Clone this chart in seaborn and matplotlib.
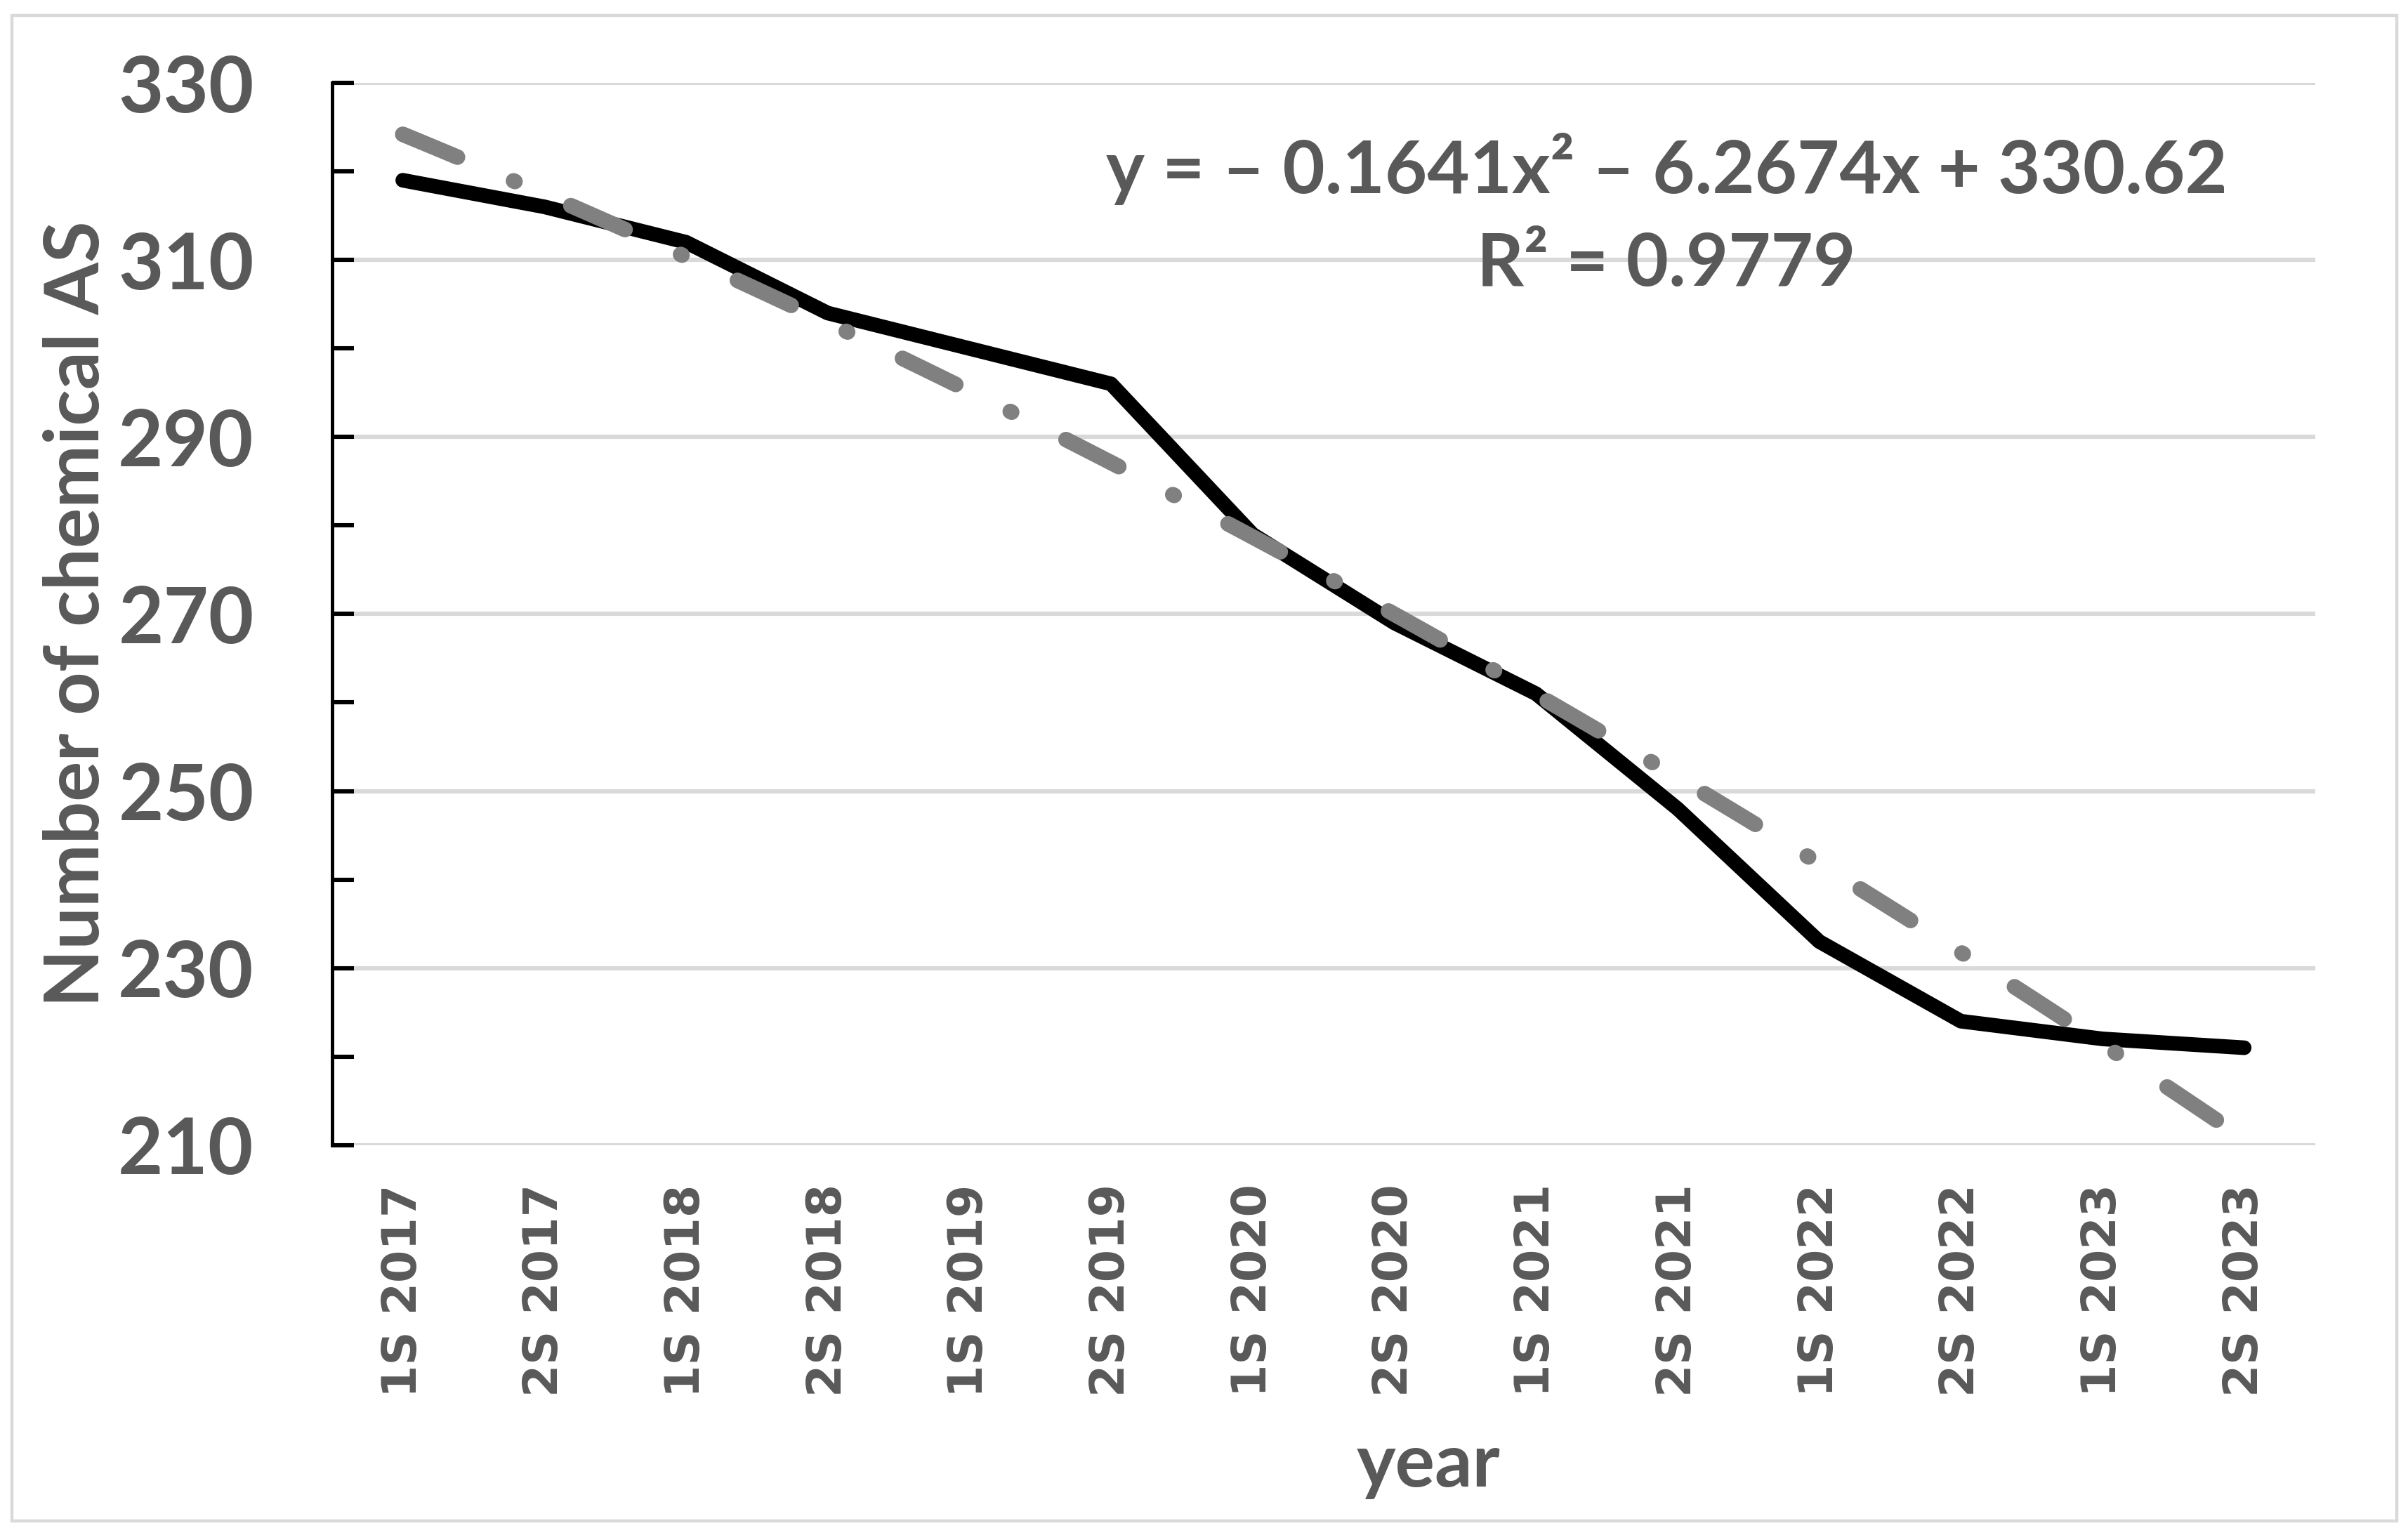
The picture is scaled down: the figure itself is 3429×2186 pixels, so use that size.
import matplotlib
matplotlib.use("Agg")
import matplotlib.pyplot as plt
import seaborn as sns
import numpy as np
import pandas as pd
from matplotlib.patches import Rectangle

# ---- data ----
periods = ["1S 2017", "2S 2017", "1S 2018", "2S 2018", "1S 2019", "2S 2019", "1S 2020",
           "2S 2020", "1S 2021", "2S 2021", "1S 2022", "2S 2022", "1S 2023", "2S 2023"]
counts = [319, 316, 312, 304, 300, 296, 279, 269, 261, 248, 233, 224, 222, 221]
y_major_ticks = [210, 230, 250, 270, 290, 310, 330]
y_minor_ticks = [220, 240, 260, 280, 300, 320]
equation_text = "y = – 0.1641x² – 6.2674x + 330.62"
r2_text = "R² = 0.9779"
y_label = "Number of chemical AS"
x_label = "year"

sns.set_style("white")
plt.rcParams["font.family"] = ["Lato", "DejaVu Sans"]
plt.rcParams["font.weight"] = "bold"
plt.rcParams["axes.labelweight"] = "bold"

TXT = "#595959"
fig = plt.figure(figsize=(17.15, 10.93), dpi=200)
ax = fig.add_axes([0.1378, 0.254, 0.8233, 0.692])

df = pd.DataFrame({"idx": np.arange(1, len(periods) + 1), "count": counts})
sns.lineplot(data=df, x="idx", y="count", ax=ax, color="black", lw=7.5,
             solid_capstyle="round", zorder=3)
sns.regplot(data=df, x="idx", y="count", order=2, ci=None, scatter=False, ax=ax,
            line_kws=dict(color="#808080", lw=8, dashes=(3.8, 3.9, 0.1, 3.9),
                          dash_capstyle="round", zorder=4))

ax.set_xlim(0.5, 14.5)
ax.set_ylim(210, 330)
ax.set_yticks(y_major_ticks)
ax.set_yticks(y_minor_ticks, minor=True)
ax.grid(axis="y", which="major", color="#D9D9D9", lw=2.2)
ax.grid(axis="x", visible=False)
ax.set_axisbelow(True)
for s in ["top", "right", "bottom"]:
    ax.spines[s].set_visible(False)
ax.spines["left"].set_color("black")
ax.spines["left"].set_linewidth(1.8)

ax.tick_params(axis="y", which="both", direction="in", length=11, width=2.2,
               color="black", pad=40, labelsize=40, labelcolor=TXT, left=True)
ax.set_xticks(df["idx"])
ax.set_xticklabels(periods, rotation=90, fontfamily="DejaVu Sans", fontsize=24,
                   fontweight="bold", color=TXT)
ax.tick_params(axis="x", length=0, pad=20)

ax.set_ylabel(y_label, fontsize=38.5, color=TXT)
ax.yaxis.set_label_coords(-0.111, 0.5)
ax.set_xlabel(x_label, fontsize=38, color=TXT)
ax.xaxis.set_label_coords(0.553, -0.27)

ax.text(0.673, 0.919, equation_text, transform=ax.transAxes, ha="center", va="center",
        fontsize=37.5, color=TXT)
ax.text(0.673, 0.829, r2_text, transform=ax.transAxes, ha="center", va="center",
        fontsize=37.5, color=TXT)

fig.patches.append(Rectangle((0.005, 0.009), 0.99, 0.981, transform=fig.transFigure,
                             fill=False, ec="#D9D9D9", lw=1.6))

fig.savefig("out.png", dpi=200)
